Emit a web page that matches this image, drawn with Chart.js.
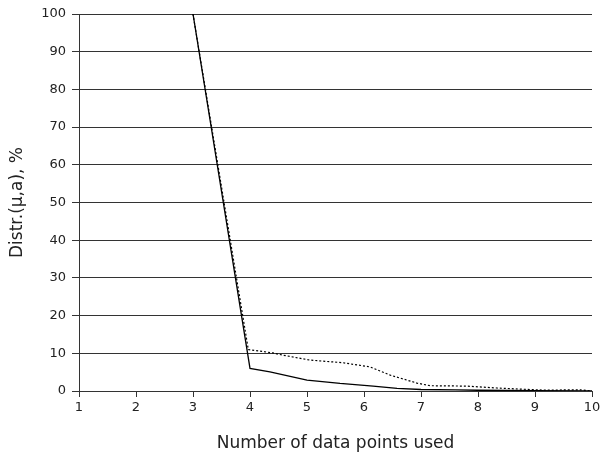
<!DOCTYPE html>
<html>
<head>
<meta charset="utf-8">
<script src="https://cdn.jsdelivr.net/npm/chart.js@4"></script>
<style>
html,body{margin:0;padding:0;background:#fff;}
#wrap{width:600px;height:458px;position:relative;}
</style>
</head>
<body>
<div id="wrap"><canvas id="c" width="600" height="458"></canvas></div>
<script>
// Data
const solidX = [3, 4, 4.35, 5, 5.58, 6.16, 6.58, 7, 7.6, 8, 9, 10];
const solidY = [100, 6.0, 5.1, 2.9, 2.0, 1.3, 0.7, 0.4, 0.3, 0.2, 0.1, 0];
const dottedX = [3, 3.97, 4.4, 4.58, 5.05, 5.63, 6.1, 6.46, 6.93, 7.16, 7.8, 8.33, 8.74, 9.2, 9.56, 9.8, 10];
const dottedY = [100, 11.0, 10.1, 9.5, 8.2, 7.5, 6.4, 4.2, 2.1, 1.4, 1.3, 0.8, 0.5, 0.2, 0.3, 0.3, 0];
const xTitle = 'Number of data points used';
const yTitle = 'Distr.(µ,a), %';

const toPts = (xs, ys) => xs.map((x, i) => ({x: x, y: ys[i]}));

const FONT = "'DejaVu Sans', sans-serif";
new Chart(document.getElementById('c'), {
  type: 'line',
  data: {
    datasets: [
      {data: toPts(solidX, solidY), borderColor: '#000', borderWidth: 1.3, pointRadius: 0, tension: 0, fill: false},
      {data: toPts(dottedX, dottedY), borderColor: '#000', borderWidth: 1.2, borderDash: [2, 2], pointRadius: 0, tension: 0, fill: false}
    ]
  },
  options: {
    responsive: false,
    animation: false,
    events: [],
    layout: {padding: {top: 14, right: 8, left: 0, bottom: 0}},
    plugins: {legend: {display: false}, tooltip: {enabled: false}},
    scales: {
      x: {
        type: 'linear', min: 1, max: 10,
        ticks: {stepSize: 1, color: '#222', font: {family: FONT, size: 13}, padding: 3},
        grid: {drawOnChartArea: false, color: '#333', tickLength: 6, tickColor: '#333'},
        border: {color: '#333', width: 1},
        title: {display: true, text: xTitle, color: '#222', font: {family: FONT, size: 17}, padding: {top: 4}},
        afterFit: s => { s.height = 67; s.paddingLeft = 0; s.paddingRight = 0; }
      },
      y: {
        min: 0, max: 100,
        ticks: {stepSize: 10, color: '#222', font: {family: FONT, size: 13}, padding: 6},
        grid: {color: '#333', tickLength: 7, tickColor: '#333'},
        border: {color: '#333', width: 1},
        title: {display: true, text: yTitle, color: '#222', font: {family: FONT, size: 17}, padding: {top: 7, bottom: 4}},
        afterFit: s => { s.width = 79; s.paddingTop = 0; s.paddingBottom = 0; }
      }
    }
  }
});
</script>
</body>
</html>
